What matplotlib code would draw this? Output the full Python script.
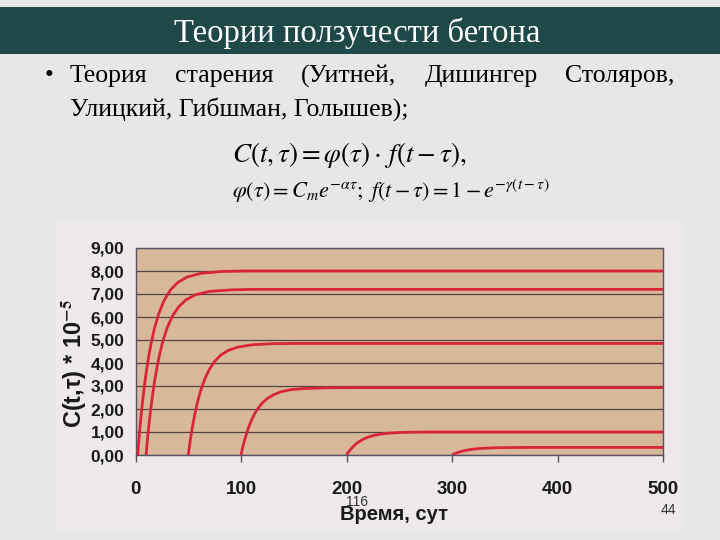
import matplotlib.pyplot as plt
from matplotlib.patches import Rectangle

# creep curves: start age tau (days), offsets from tau and values
tau = [2, 10, 50, 100, 200, 300]
offsets = [0, 1, 2.5, 4, 6, 8, 10.5, 13, 16, 20, 25, 31, 38, 47, 60, 80, 100]
curves = [
    [0, 0.56, 1.33, 2.03, 2.84, 3.54, 4.28, 4.90, 5.51, 6.14, 6.71, 7.17, 7.50, 7.74, 7.90, 7.98, 8.00],
    [0, 0.51, 1.20, 1.82, 2.55, 3.18, 3.85, 4.41, 4.96, 5.53, 6.04, 6.45, 6.75, 6.97, 7.11, 7.18, 7.20],
    [0, 0.34, 0.81, 1.23, 1.72, 2.15, 2.60, 2.97, 3.34, 3.72, 4.07, 4.35, 4.55, 4.69, 4.79, 4.84, 4.85],
    [0, 0.21, 0.49, 0.74, 1.04, 1.30, 1.57, 1.80, 2.02, 2.25, 2.46, 2.62, 2.75, 2.84, 2.89, 2.92, 2.93],
    [0, 0.07, 0.17, 0.25, 0.35, 0.44, 0.54, 0.61, 0.69, 0.77, 0.84, 0.90, 0.94, 0.97, 0.99, 1.00, 1.00],
    [0, 0.023, 0.055, 0.084, 0.117, 0.146, 0.177, 0.202, 0.227, 0.253, 0.277, 0.296, 0.309, 0.319,
     0.326, 0.329, 0.33],
]
x_end = 500
x_ticks = [0, 100, 200, 300, 400, 500]
y_ticks = [0, 1, 2, 3, 4, 5, 6, 7, 8, 9]

# first bullet line is justified, so words are placed one by one
line1_words = ['Теория', 'старения', '(Уитней,', 'Дишингер', 'Столяров,']
line1_x = [70, 175, 301, 425, 565]

plt.rcParams['mathtext.fontset'] = 'stix'

fig = plt.figure(figsize=(7.2, 5.4), dpi=100)
fig.patch.set_facecolor('#e7e7e7')

# slide title bar
fig.patches.append(Rectangle((0, (540 - 54) / 540), 1, 47 / 540, transform=fig.transFigure,
                             facecolor='#1f4848', edgecolor='none', zorder=-5))
fig.text(357 / 720, (540 - 42) / 540, 'Теории ползучести бетона', color='white',
         family='Liberation Serif', fontsize=23.5, ha='center', va='baseline')

# bullet text
fig.text(45 / 720, (540 - 76) / 540, '•', family='Liberation Serif', fontsize=18, va='center')
for w, x in zip(line1_words, line1_x):
    fig.text(x / 720, (540 - 76) / 540, w, family='Liberation Serif', fontsize=18.5,
             va='center')
fig.text(70 / 720, (540 - 109) / 540, 'Улицкий, Гибшман, Голышев);',
         family='Liberation Serif', fontsize=18.5, va='center')

# formulas
fig.text(232 / 720, (540 - 155) / 540,
         r'$C\left(t,\tau\right)=\varphi\left(\tau\right)\cdot\,f\left(t-\tau\right),$',
         fontsize=19.5, va='center')
fig.text(232 / 720, (540 - 191) / 540,
         r'$\varphi\left(\tau\right)=C_m e^{-\alpha\tau};\ f\left(t-\tau\right)=1-e^{-\gamma\left(t-\tau\right)}$',
         fontsize=16, va='center')

# scanned chart area
fig.patches.append(Rectangle((55 / 720, 10 / 540), 630 / 720, 308 / 540, transform=fig.transFigure,
                             facecolor='#eeeae9', edgecolor='none', zorder=-5))

ax = fig.add_axes([135.5 / 720, 85 / 540, 527.5 / 720, 207 / 540])
ax.set_zorder(2)
ax.set_facecolor('#d8b89a')
for y in y_ticks:
    ax.axhline(y, color='#54463f', lw=0.9, zorder=1)
for t0, vals in zip(tau, curves):
    xs = [t0 + d for d in offsets] + [x_end]
    ys = vals + [vals[-1]]
    ax.plot(xs, ys, color='#d8253a', lw=2.0, zorder=3, solid_capstyle='butt')

ax.set_xlim(0, 500)
ax.set_ylim(0, 9)
ax.set_xticks(x_ticks)
ax.set_yticks(y_ticks)
ax.set_yticklabels([f'{v:.2f}'.replace('.', ',') for v in y_ticks])
ax.tick_params(axis='x', direction='out', length=5, width=1, color='#555060', pad=14,
               labelsize=13.5)
ax.tick_params(axis='y', length=0, pad=8, labelsize=12.5)
for lab in ax.get_xticklabels() + ax.get_yticklabels():
    lab.set_family('Liberation Sans')
    lab.set_fontweight('bold')
    lab.set_color('#1a1a1a')
for s in ax.spines.values():
    s.set_color('#5a5262')
    s.set_linewidth(1.0)

fig.text(74 / 720, (540 - 364) / 540, r'C(t,τ) * 10$^{\mathbf{-5}}$', rotation=90,
         family='Liberation Sans', fontweight='bold', fontsize=17, ha='center', va='center',
         color='#1a1a1a')
fig.text(394 / 720, (540 - 515) / 540, 'Время, сут', family='Liberation Sans',
         fontweight='bold', fontsize=14.5, ha='center', va='center', color='#1a1a1a')

# page numbers
fig.text(357 / 720, (540 - 502) / 540, '116', family='Liberation Sans', fontsize=10,
         ha='center', va='center', color='#333333')
fig.text(668 / 720, (540 - 510) / 540, '44', family='Liberation Sans', fontsize=10,
         ha='center', va='center', color='#333333')

fig.savefig('out.png', dpi=100, facecolor=fig.get_facecolor())
